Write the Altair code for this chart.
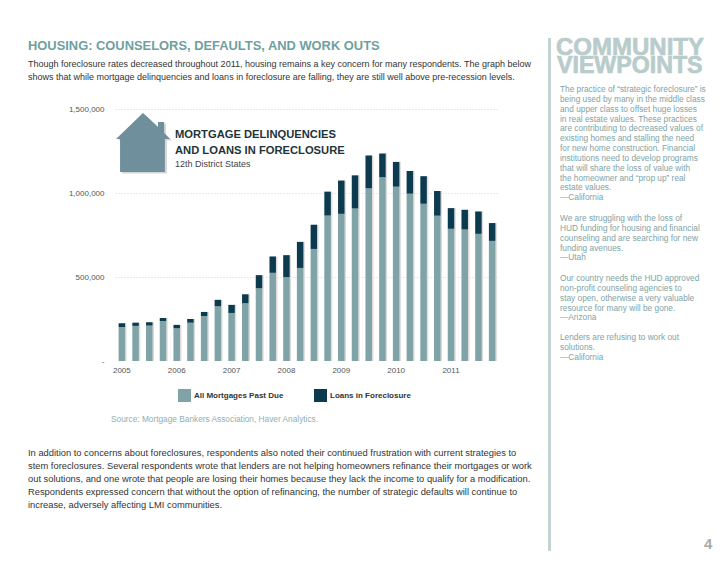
import altair as alt
import pandas as pd

quarters = [f"{y}Q{q}" for y in range(2005, 2012) for q in range(1, 5)]
past_due = [203000, 209000, 211000, 238000, 195000, 228000, 268000, 326000, 286000, 344000, 433000, 525000, 499000, 554000,
            667000, 866000, 876000, 908000, 1028000, 1094000, 1038000, 996000, 936000, 865000, 787000, 783000, 757000, 715000]
foreclosure = [21000, 19000, 19000, 18000, 20000, 22000, 24000, 38000, 48000, 53000, 78000, 97000, 131000, 155000,
               144000, 142000, 198000, 197000, 195000, 141000, 147000, 135000, 164000, 147000, 123000, 117000, 133000, 106000]
series_names = ["All Mortgages Past Due", "Loans in Foreclosure"]
series_colors = ["#7FA3A6", "#0C3B50"]
y_ticks = [0, 500000, 1000000, 1500000]
x_ticks = [f"{y}Q1" for y in range(2005, 2012)]

page_title = "HOUSING: COUNSELORS, DEFAULTS, AND WORK OUTS"
intro_lines = [
    "Though foreclosure rates decreased throughout 2011, housing remains a key concern for many respondents. The graph below",
    "shows that while mortgage delinquencies and loans in foreclosure are falling, they are still well above pre-recession levels.",
]
outro_lines = [
    "In addition to concerns about foreclosures, respondents also noted their continued frustration with current strategies to",
    "stem foreclosures. Several respondents wrote that lenders are not helping homeowners refinance their mortgages or work",
    "out solutions, and one wrote that people are losing their homes because they lack the income to qualify for a modification.",
    "Respondents expressed concern that without the option of refinancing, the number of strategic defaults will continue to",
    "increase, adversely affecting LMI communities.",
]
side_1 = [
    "The practice of \u201cstrategic foreclosure\u201d is", "being used by many in the middle class",
    "and upper class to offset huge losses", "in real estate values. These practices",
    "are contributing to decreased values of", "existing homes and stalling the need",
    "for new home construction. Financial", "institutions need to develop programs",
    "that will share the loss of value with", "the homeowner and \u201cprop up\u201d real",
    "estate values.", "\u2014California",
]
side_2 = ["We are struggling with the loss of", "HUD funding for housing and financial",
          "counseling and are searching for new", "funding avenues.", "\u2014Utah"]
side_3 = ["Our country needs the HUD approved", "non-profit counseling agencies to",
          "stay open, otherwise a very valuable", "resource for many will be gone.", "\u2014Arizona"]
side_4 = ["Lenders are refusing to work out", "solutions.", "\u2014California"]
house_path = ("M0,-1.09 L0.556,-0.57 L0.556,-0.76 L0.78,-0.76 L0.78,-0.35 L1,-0.13 L0.81,-0.13 "
              "L0.81,1.09 L-0.85,1.09 L-0.85,-0.13 L-1,-0.13 Z")

PLOT_L, PLOT_T = 115, 109
def px(x): return x - PLOT_L
def py(y): return y - PLOT_T

FONT = "Liberation Sans"
blank = alt.Data(values=[{"k": 0}])

def txt(lines, x, y, size, color, weight="normal", lh=None, font=FONT, **kw):
    props = dict(text=lines, fontSize=size, color=color, fontWeight=weight, font=font,
                 align="left", baseline="alphabetic", **kw)
    if lh:
        props["lineHeight"] = lh
    return alt.Chart(blank).mark_text(**props).encode(x=alt.value(px(x)), y=alt.value(py(y)))

rows = []
for i, q in enumerate(quarters):
    rows.append({"q": q, "series": series_names[0], "v": past_due[i], "o": 0})
    rows.append({"q": q, "series": series_names[1], "v": foreclosure[i], "o": 1})
df = pd.DataFrame(rows)
totals = pd.DataFrame({"q": quarters, "total": [a + b for a, b in zip(past_due, foreclosure)]})

x_enc = alt.X("q:N", sort=quarters, scale=alt.Scale(domain=quarters, paddingInner=0.52, paddingOuter=0.26),
              axis=alt.Axis(title=None, values=x_ticks, labelExpr="slice(datum.value,0,4)", labelAngle=0,
                            domain=False, ticks=False, labelPadding=5, labelFont=FONT, labelFontSize=8,
                            labelColor="#555555", labelAlign="center", grid=False))
y_scale = alt.Scale(domain=[0, 1500000], nice=False)

shadow = alt.Chart(totals).mark_bar(width=6.5, xOffset=1.5, color="#dddddd").encode(
    x=x_enc,
    y=alt.Y("total:Q", scale=y_scale, title=None,
            axis=alt.Axis(values=y_ticks, labelExpr="datum.value==0?'-':format(datum.value,',')",
                          domain=False, ticks=False, labelPadding=11, labelFont=FONT, labelFontSize=8,
                          labelColor="#555555", grid=True, gridColor="#ccd9d9", gridDash=[1, 2],
                          gridOpacity=alt.expr("datum.value==0?0:1"))),
)
bars = alt.Chart(df).mark_bar(width=6.5).encode(
    x=x_enc,
    y=alt.Y("v:Q", stack="zero", scale=y_scale, title=None),
    order=alt.Order("o:Q"),
    color=alt.Color("series:N", sort=series_names,
                    scale=alt.Scale(domain=series_names, range=series_colors),
                    legend=alt.Legend(title=None, orient="none", legendX=px(178), legendY=py(389),
                                      direction="horizontal", columns=2, symbolType="square", symbolSize=169,
                                      symbolStrokeWidth=0, symbolOpacity=1, labelFont=FONT, labelFontSize=8,
                                      labelFontWeight="bold", labelColor="#333333", columnPadding=30,
                                      labelOffset=3, gridAlign="all", labelLimit=200)),
)

house_sh = alt.Chart(blank).mark_point(shape=house_path, size=2916, filled=True, opacity=1, color="#d5d5d5").encode(
    x=alt.value(px(145)), y=alt.value(py(144)))
house = alt.Chart(blank).mark_point(shape=house_path, size=2916, filled=True, opacity=1, color="#6F8F9C").encode(
    x=alt.value(px(143)), y=alt.value(py(142.5)))

side_rule = alt.Chart(blank).mark_rule(color="#C4D4D4", strokeWidth=3).encode(
    x=alt.value(px(549.5)), y=alt.value(py(38)), y2=alt.value(py(553)))

chart = alt.layer(
    shadow, bars, house_sh, house, side_rule,
    txt([page_title], 28, 49.5, 12.9, "#6F9FA0", "bold"),
    txt(intro_lines, 28, 67, 9, "#333333", lh=13),
    txt(outro_lines, 28, 456, 9.36, "#333333", lh=13),
    txt(["MORTGAGE DELINQUENCIES", "AND LOANS IN FORECLOSURE"], 175, 138, 11.2, "#1D3438", "bold", lh=16),
    txt(["12th District States"], 175, 167, 9, "#444444"),
    txt(["Source: Mortgage Bankers Association, Haver Analytics."], 111, 422, 8.3, "#8FB0B0"),
    txt(["COMMUNITY"], 556, 55, 24, "#B9CCCC", "bold", stroke="#B9CCCC", strokeWidth=0.7),
    txt(["VIEWPOINTS"], 557, 72.7, 23.2, "#B9CCCC", "bold", stroke="#B9CCCC", strokeWidth=0.7),
    txt(side_1, 560, 92, 8.3, "#7FA3A6", lh=9.85),
    txt(side_2, 560, 221, 8.3, "#7FA3A6", lh=9.85),
    txt(side_3, 560, 281, 8.3, "#7FA3A6", lh=9.85),
    txt(side_4, 560, 340, 8.3, "#7FA3A6", lh=9.85),
    txt(["4"], 704, 549, 15, "#AAAAAA", "bold"),
).properties(
    width=384, height=252,
    padding={"left": PLOT_L - 8, "top": PLOT_T - 8, "right": 221, "bottom": 190},
    autosize=alt.AutoSizeParams(type="none"),
).configure_view(stroke=None)

chart.save("out.html", embed_options={"renderer": "svg", "actions": False})
